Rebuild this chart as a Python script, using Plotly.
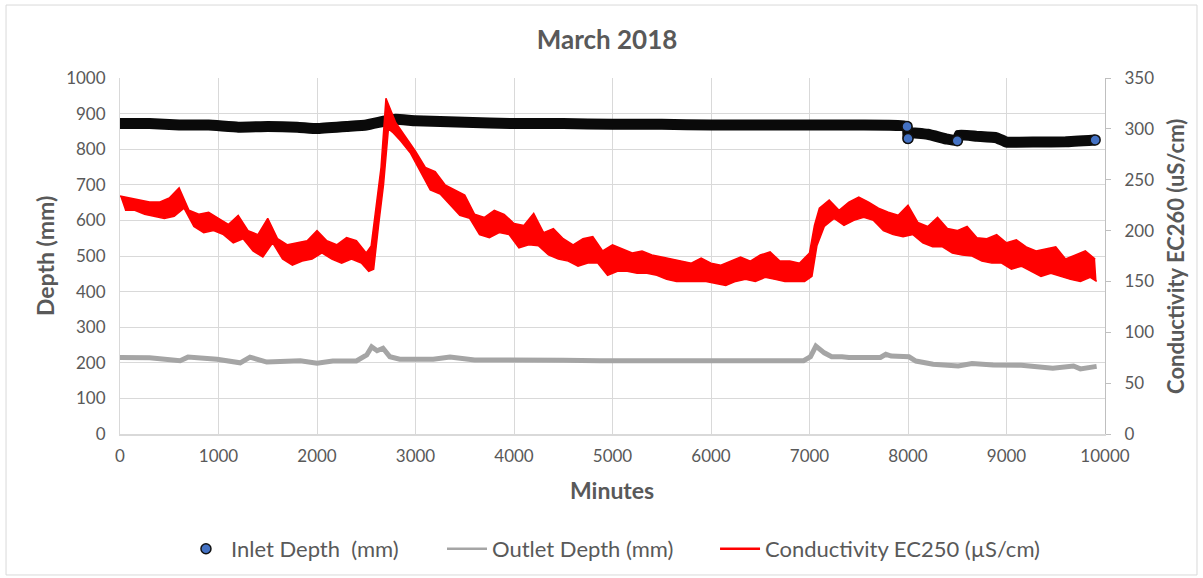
import plotly.graph_objects as go

# ---------------- data ----------------
# Inlet depth (mm) on left axis
inlet_min = [0, 300, 600, 900, 1200, 1500, 1800, 2000, 2300, 2500, 2700, 2800, 3000,
             3500, 4000, 4500, 5000, 5500, 6000, 6500, 7000, 7500, 7990, 8000, 8010,
             8200, 8400, 8500, 8520, 8700, 8900, 9000, 9300, 9600, 9900]
inlet_mm = [872, 872, 868, 868, 862, 864, 862, 858, 864, 868, 880, 884, 880,
            876, 872, 872, 870, 870, 868, 868, 868, 868, 864, 830, 846,
            842, 828, 824, 840, 836, 832, 820, 820, 821, 826]

# Outlet depth (mm) on left axis
outlet_min = [0, 300, 610, 690, 985, 1220, 1320, 1490, 1830, 2000, 2160, 2400, 2505,
              2555, 2610, 2670, 2740, 2840, 3180, 3350, 3600, 4000, 4500, 4870, 5500,
              6000, 6500, 6940, 7010, 7065, 7150, 7225, 7330, 7400, 7720, 7775, 7830,
              7970, 8010, 8080, 8255, 8510, 8650, 8865, 9150, 9470, 9680, 9750, 9915]
outlet_mm = [215, 214, 206, 216, 210, 200, 216, 202, 206, 199, 205, 205, 222,
             245, 234, 241, 217, 210, 210, 216, 208, 209, 207, 206, 207,
             205, 206, 206, 217, 247, 228, 217, 217, 215, 215, 224, 219,
             219, 217, 205, 196, 191, 198, 194, 193, 185, 191, 183, 190]

# Conductivity (uS/cm) on right axis: lower / upper edge of the noisy trace
cond_min = [0, 100, 200, 300, 400, 500, 600, 700, 800, 900, 1000, 1100, 1200, 1300,
            1400, 1500, 1600, 1700, 1800, 1900, 2000, 2100, 2200, 2300, 2400, 2500,
            2550, 2600, 2650, 2700, 2750, 2800, 2900, 3000, 3100, 3200, 3300, 3400,
            3500, 3600, 3700, 3800, 3900, 4000, 4100, 4200, 4300, 4400, 4500, 4600,
            4700, 4800, 4900, 5000, 5100, 5200, 5300, 5400, 5500, 5600, 5700, 5800,
            5900, 6000, 6100, 6200, 6300, 6400, 6500, 6600, 6700, 6800, 6900, 7000,
            7050, 7100, 7200, 7300, 7400, 7500, 7600, 7700, 7800, 7900, 8000, 8100,
            8200, 8300, 8400, 8500, 8600, 8700, 8800, 8900, 9000, 9100, 9200, 9300,
            9400, 9500, 9600, 9700, 9800, 9900]
cond_low = [220, 220, 216, 214, 212, 214, 222, 204, 198, 200, 196, 188, 192, 180,
            174, 188, 172, 166, 170, 172, 178, 172, 168, 172, 168, 160,
            162, 205, 245, 300, 296, 288, 276, 258, 240, 236, 225, 215,
            212, 196, 193, 198, 196, 183, 186, 185, 176, 172, 170, 165,
            168, 168, 156, 160, 160, 158, 158, 156, 152, 150, 150, 150,
            150, 148, 146, 150, 152, 150, 154, 152, 150, 150, 150, 155,
            185, 204, 212, 205, 210, 213, 210, 200, 196, 194, 196, 188,
            184, 184, 178, 176, 175, 170, 168, 168, 162, 165, 160, 155,
            158, 155, 152, 150, 154, 150]
cond_high = [234, 232, 230, 228, 228, 232, 242, 220, 216, 218, 212, 206, 215, 200,
             196, 212, 192, 186, 188, 190, 200, 190, 186, 193, 190, 178,
             185, 225, 262, 330, 318, 306, 292, 278, 262, 258, 245, 240,
             235, 216, 213, 220, 216, 207, 205, 217, 198, 202, 192, 186,
             192, 194, 180, 186, 182, 178, 180, 176, 174, 172, 170, 168,
             173, 168, 166, 170, 174, 170, 176, 179, 170, 170, 168, 178,
             205, 222, 230, 220, 228, 233, 228, 222, 218, 215, 225, 208,
             204, 213, 202, 200, 204, 193, 192, 196, 188, 191, 184, 180,
             182, 184, 172, 176, 180, 172]

x_ticks = list(range(0, 10001, 1000))
x_tick_text = [str(v) for v in x_ticks]

# lower edge is read half way between the upper-edge readings
low_x = []
for i, m in enumerate(cond_min):
    nxt = cond_min[i + 1] if i + 1 < len(cond_min) else m + 30
    low_x.append((m + nxt) / 2)

GRAY_TXT = "#595959"
FONT = "Lato, 'Open Sans', sans-serif"

fig = go.Figure()

# Inlet depth: thick dense markers appear as a black band
fig.add_trace(go.Scatter(x=inlet_min, y=inlet_mm, mode="lines",
                         line=dict(color="#0a0a0a", width=11, shape="spline", smoothing=0.3),
                         showlegend=False, hoverinfo="skip"))
edge_idx = [22, 23, 27, len(inlet_min) - 1]
fig.add_trace(go.Scatter(x=[inlet_min[i] for i in edge_idx], y=[inlet_mm[i] for i in edge_idx],
                         mode="markers",
                         marker=dict(size=10, color="#4472C4", line=dict(color="#111111", width=1.5)),
                         showlegend=False, hoverinfo="skip"))

# Outlet depth
fig.add_trace(go.Scatter(x=outlet_min, y=outlet_mm, mode="lines",
                         line=dict(color="#A5A5A5", width=5),
                         showlegend=False))

# Conductivity on secondary axis: noisy band between its edges
fig.add_trace(go.Scatter(x=low_x, y=cond_low, mode="lines", yaxis="y2",
                         line=dict(color="#FF0000", width=1.5),
                         showlegend=False, hoverinfo="skip"))
fig.add_trace(go.Scatter(x=cond_min, y=cond_high, mode="lines", yaxis="y2",
                         line=dict(color="#FF0000", width=1.5),
                         fill="tonexty", fillcolor="#FF0000",
                         showlegend=False))

# Legend entries (one legend box per entry for exact placement)
fig.add_trace(go.Scatter(x=[None], y=[None], mode="markers", name="Inlet Depth\u00a0 (mm)",
                         legend="legend",
                         marker=dict(size=10, color="#4472C4", line=dict(color="#111111", width=1.5))))
fig.add_trace(go.Scatter(x=[None], y=[None], mode="lines", name="Outlet Depth (mm)",
                         legend="legend2", line=dict(color="#A5A5A5", width=2.5)))
fig.add_trace(go.Scatter(x=[None], y=[None], mode="lines", name="Conductivity EC250 (µS/cm)",
                         legend="legend3", line=dict(color="#FF0000", width=2.5)))

leg_common = dict(orientation="h", xanchor="left", yref="container", y=0.0502,
                  yanchor="middle", font=dict(size=22, color=GRAY_TXT), itemwidth=40,
                  bgcolor="rgba(0,0,0,0)")

fig.update_layout(
    width=1203, height=578,
    margin=dict(l=120, r=98, t=78, b=144),
    paper_bgcolor="white", plot_bgcolor="white",
    font=dict(family=FONT, color=GRAY_TXT, size=17),
    title=dict(text="<b>March 2018</b>", x=0.5046, xref="container", y=0.931,
               yref="container", xanchor="center", yanchor="middle",
               font=dict(size=26, color=GRAY_TXT, family=FONT)),
    xaxis=dict(range=[0, 10000], tickvals=x_ticks, ticktext=x_tick_text, showgrid=True,
               gridcolor="#D9D9D9", gridwidth=1, showline=True, linecolor="#D9D9D9",
               linewidth=1.5, zeroline=False, ticks="",
               tickfont=dict(size=17, color=GRAY_TXT), ticklabelstandoff=6),
    yaxis=dict(range=[0, 1000], dtick=100, showgrid=True, gridcolor="#D9D9D9",
               gridwidth=1, showline=True, linecolor="#D9D9D9", zeroline=False,
               ticks="", tickfont=dict(size=17, color=GRAY_TXT), ticklabelstandoff=10),
    yaxis2=dict(range=[0, 350], dtick=50, overlaying="y", side="right", showgrid=False,
                showline=True, linecolor="#BFBFBF", linewidth=1.2, zeroline=False,
                ticks="outside", ticklen=5, tickcolor="#BFBFBF",
                tickfont=dict(size=17, color=GRAY_TXT), ticklabelstandoff=10),
    legend=dict(x=0.0619, **leg_common),
    legend2=dict(x=0.3269, **leg_common),
    legend3=dict(x=0.6041, **leg_common),
    showlegend=True,
    annotations=[
        dict(text="<b>Depth (mm)</b>", xref="paper", yref="paper", x=-0.0761, y=0.5,
             textangle=-90, showarrow=False, font=dict(size=23, color=GRAY_TXT),
             xanchor="center", yanchor="middle"),
        dict(text="<b>Conductivity EC260 (uS/cm)</b>", xref="paper", yref="paper",
             x=1.071, y=0.5, textangle=-90, showarrow=False,
             font=dict(size=22, color=GRAY_TXT), xanchor="center", yanchor="middle"),
        dict(text="<b>Minutes</b>", xref="paper", yref="paper", x=0.4995, y=-0.157,
             showarrow=False, font=dict(size=23, color=GRAY_TXT),
             xanchor="center", yanchor="middle"),
    ],
    shapes=[dict(type="rect", xref="paper", yref="paper", x0=-0.1157, x1=1.0934,
                 y0=-0.396, y1=1.205, line=dict(color="#D9D9D9", width=1),
                 fillcolor="rgba(0,0,0,0)", layer="below")],
)

fig.write_html("out.html", post_script="document.body.style.margin='0';",
               config={"displayModeBar": False})
